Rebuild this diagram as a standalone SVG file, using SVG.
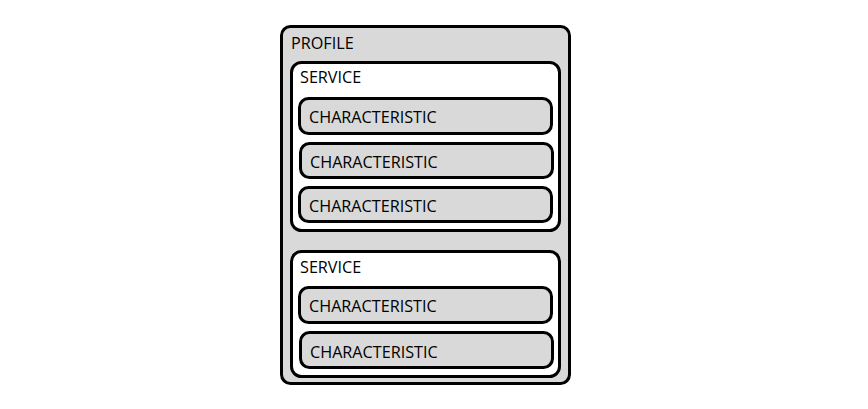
<svg xmlns="http://www.w3.org/2000/svg" width="868" height="409" viewBox="0 0 868 409">
<style>
.box{stroke:#000;stroke-width:3;}
.gray{fill:#d9d9d9;}
.white{fill:#fff;}
text{font-family:"Open Sans","Liberation Sans",sans-serif;font-size:16.2px;fill:#000;}
</style>
<rect width="868" height="409" fill="#fff"/>
<g id="profile">
<rect class="box gray" x="281.5" y="26.5" width="288" height="357" rx="9"/>
<text x="291" y="49">PROFILE</text>
</g>
<g id="service1">
<rect class="box white" x="291.5" y="62.5" width="268" height="168" rx="10"/>
<text x="300" y="83">SERVICE</text>
</g>
<g id="char1">
<rect class="box gray" x="299.5" y="98.5" width="252" height="35" rx="9"/>
<text x="309" y="123">CHARACTERISTIC</text>
</g>
<g id="char2">
<rect class="box gray" x="300.5" y="143.5" width="252" height="34" rx="9"/>
<text x="310" y="168">CHARACTERISTIC</text>
</g>
<g id="char3">
<rect class="box gray" x="299.5" y="187.5" width="252" height="34" rx="9"/>
<text x="309" y="212">CHARACTERISTIC</text>
</g>
<g id="service2">
<rect class="box white" x="291.5" y="251.5" width="268" height="125" rx="10"/>
<text x="300" y="273">SERVICE</text>
</g>
<g id="char4">
<rect class="box gray" x="299.5" y="287.5" width="252" height="35" rx="9"/>
<text x="309" y="312">CHARACTERISTIC</text>
</g>
<g id="char5">
<rect class="box gray" x="300.5" y="332.5" width="252" height="35" rx="9"/>
<text x="310" y="358">CHARACTERISTIC</text>
</g>
<g id="connectors"/>
</svg>
